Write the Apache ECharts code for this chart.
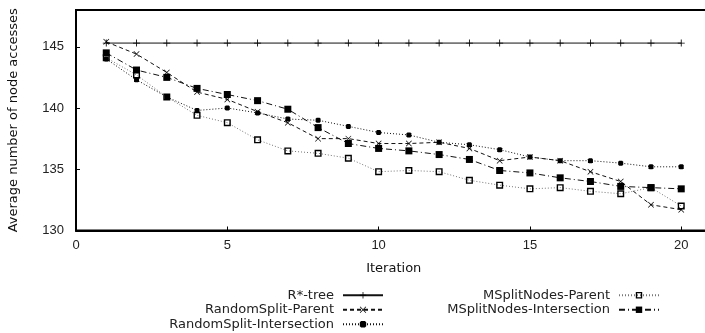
<!DOCTYPE html>
<html><head><meta charset="utf-8">
<script src="https://cdn.jsdelivr.net/npm/echarts@6/dist/echarts.min.js"></script>
<style>html,body{margin:0;padding:0;background:#fff}#c{width:705px;height:333px}</style>
</head><body><div id="c"></div>
<script>
var iterations = [1,2,3,4,5,6,7,8,9,10,11,12,13,14,15,16,17,18,19,20];
var rstarTree = [145.3,145.3,145.3,145.3,145.3,145.3,145.3,145.3,145.3,145.3,145.3,145.3,145.3,145.3,145.3,145.3,145.3,145.3,145.3,145.3];
var randomSplitParent = [145.4,144.4,142.9,141.3,140.7,139.7,138.8,137.5,137.5,137.1,137.1,137.2,136.7,135.7,136.0,135.7,134.8,134.0,132.1,131.7];
var randomSplitIntersection = [144.0,142.3,140.9,139.8,140.0,139.6,139.1,139.0,138.5,138.0,137.8,137.2,137.0,136.6,136.0,135.7,135.7,135.5,135.2,135.2];
var mSplitNodesParent = [144.1,142.7,140.9,139.4,138.8,137.4,136.5,136.3,135.9,134.8,134.9,134.8,134.1,133.7,133.4,133.5,133.2,133.0,133.5,132.0];
var mSplitNodesIntersection = [144.5,143.1,142.5,141.6,141.1,140.6,139.9,138.4,137.1,136.7,136.5,136.2,135.8,134.9,134.7,134.3,134.0,133.6,133.5,133.4];
var xTicks = [0,5,10,15,20];
var yTicks = [130,135,140,145];

var FONT = 'Liberation Sans';
var WFONT = 'DejaVu Sans';
var SYM_PLUS = 'path://M0,4.4H10V5.6H0Z M4.4,0H5.6V10H4.4Z';
var SYM_X = 'path://M0.8,0L5,4.2L9.2,0L10,0.8L5.8,5L10,9.2L9.2,10L5,5.8L0.8,10L0,9.2L4.2,5L0,0.8Z';
var SYM_OPEN_SQ = 'path://M0,0H10V10H0Z M2,2V8H8V2Z';
var SYM_SQ = 'rect';
var SYM_DOT = 'path://M2,0H8L10,2V8L8,10H2L0,8V2Z';

function pairs(vals){ return iterations.map(function(x,i){ return [x, vals[i]]; }); }
function mk(name, vals, sym, size, dash, color){
  return {
    name: name, type: 'line', data: pairs(vals),
    symbol: sym, symbolSize: size, showSymbol: true,
    lineStyle: {color: color, width: 1, type: dash},
    itemStyle: {color: '#000', borderWidth: 0},
    emphasis: {disabled: true}, animation: false, z: 3
  };
}
function legendBase(names, right){
  return {data: names, orient: 'vertical', align: 'right', right: right, top: 288,
    itemWidth: 40, itemHeight: 8, itemGap: 0, selectedMode: false, padding: 0,
    textStyle: {fontFamily: WFONT, fontSize: 13, color: '#222', lineHeight: 14.5, padding: [0,4,0,0]}};
}

var chart = echarts.init(document.getElementById('c'));
chart.setOption({
  backgroundColor: '#fff',
  animation: false,
  grid: {left: 76, top: 10, bottom: 102.5, right: -6.5, show: true, borderColor: '#000', borderWidth: 2,
         containLabel: false, outerBoundsMode: 'none'},
  xAxis: {
    type: 'value', min: 0, max: 21, interval: 5,
    name: 'Iteration', nameLocation: 'middle', nameGap: 32,
    nameTextStyle: {fontFamily: WFONT, fontSize: 13, color: '#111'},
    axisLine: {show: true, lineStyle: {color: '#000', width: 2}},
    axisTick: {show: true, inside: true, length: 4, customValues: xTicks, lineStyle: {color: '#000'}},
    axisLabel: {customValues: xTicks, fontFamily: FONT, fontSize: 13, color: '#222', margin: 8},
    splitLine: {show: false}
  },
  yAxis: {
    type: 'value', min: 130, max: 148, interval: 5,
    name: 'Average number of node accesses', nameLocation: 'middle', nameGap: 56,
    nameTextStyle: {fontFamily: WFONT, fontSize: 13, color: '#111'},
    axisLine: {show: true, lineStyle: {color: '#000', width: 2}},
    axisTick: {show: true, inside: true, length: 4, customValues: yTicks, lineStyle: {color: '#000'}},
    axisLabel: {customValues: yTicks, fontFamily: FONT, fontSize: 13, color: '#222', margin: 12},
    splitLine: {show: false}
  },
  legend: [
    legendBase(['R*-tree','RandomSplit-Parent','RandomSplit-Intersection'], 321),
    legendBase(['MSplitNodes-Parent','MSplitNodes-Intersection'], 45)
  ],
  series: [
    mk('R*-tree', rstarTree, SYM_PLUS, 7, 'solid', '#111'),
    mk('RandomSplit-Parent', randomSplitParent, SYM_X, 6, [4,3], '#111'),
    mk('RandomSplit-Intersection', randomSplitIntersection, SYM_DOT, 5, [1,2], '#111'),
    mk('MSplitNodes-Parent', mSplitNodesParent, SYM_OPEN_SQ, 7, [1,2], '#777'),
    mk('MSplitNodes-Intersection', mSplitNodesIntersection, SYM_SQ, 7, [6,3,1,3], '#111')
  ]
});
</script>
</body></html>
